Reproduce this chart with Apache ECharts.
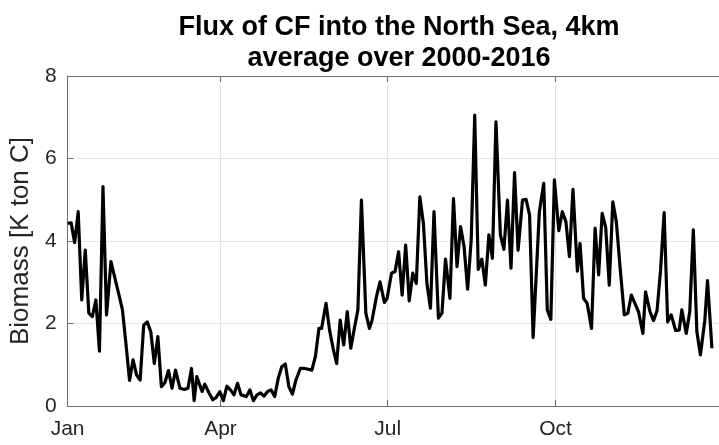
<!DOCTYPE html>
<html>
<head>
<meta charset="utf-8">
<script src="https://cdn.jsdelivr.net/npm/echarts@6/dist/echarts.min.js"></script>
<style>
  html, body { margin: 0; padding: 0; background: #fff; }
  #chart { width: 719px; height: 445px; }
</style>
</head>
<body>
<div id="chart"></div>
<script>
// day of year of each sample
const days = [
  1, 3, 5, 7, 9, 11, 13, 15, 17, 19, 21, 23, 25.5, 28, 30, 32, 34, 36, 38, 40,
  42, 44, 46, 48, 50, 52, 54, 56, 58, 60, 62, 64.5, 67, 69, 71, 72.5, 74, 77, 78.5, 81,
  83, 85, 87, 89, 91, 93, 95, 97, 99, 102, 104, 106, 108, 110, 112, 114, 116, 118, 120, 122,
  124, 126, 128, 130, 132.5, 135, 137, 139, 141, 143, 144.5, 147, 149, 151, 153, 155, 157, 159, 161, 163,
  165, 167, 169.5, 171.5, 173, 175.5, 177.5, 180, 181.5, 184, 186, 188, 190, 192, 194, 196, 198, 200, 202, 204,
  206, 208, 210.5, 212.5, 214.5, 217, 219, 221, 223, 225, 227, 229, 231, 233, 235, 237, 239, 241, 243, 245.5,
  247.5, 249.5, 251.5, 253.5, 255.5, 258, 260, 262, 264, 267.5, 270, 272, 274, 276, 278.5, 280.5, 282.5, 284.5, 286.5, 289,
  290.5, 292.5, 294.5, 297, 299, 301, 303, 305, 307, 309, 311, 313, 315.5, 317.5, 319.5, 321.5, 323.5, 326, 327.5, 330,
  332, 334, 336, 338, 340, 342, 344.5, 346.5, 348, 350.5, 352.5, 354.5, 356.5, 358.5, 361, 362.5, 365
];
// biomass flux, K ton C
const flux = [
  4.43, 4.44, 3.96, 4.71, 2.57, 3.78, 2.25, 2.17, 2.57, 1.33, 5.32, 2.21, 3.50, 3.05, 2.70, 2.33, 1.50, 0.62, 1.12, 0.75,
  0.63, 1.96, 2.04, 1.80, 1.03, 1.68, 0.47, 0.57, 0.86, 0.43, 0.87, 0.43, 0.40, 0.43, 0.91, 0.13, 0.71, 0.35, 0.53, 0.31,
  0.15, 0.21, 0.35, 0.13, 0.48, 0.39, 0.27, 0.55, 0.27, 0.23, 0.39, 0.13, 0.27, 0.32, 0.24, 0.35, 0.39, 0.23, 0.67, 0.95,
  1.02, 0.47, 0.29, 0.63, 0.91, 0.91, 0.89, 0.87, 1.20, 1.88, 1.88, 2.49, 1.84, 1.40, 1.03, 2.08, 1.48, 2.29, 1.40, 1.88,
  2.33, 4.99, 2.25, 1.88, 2.08, 2.65, 3.01, 2.51, 2.61, 3.22, 3.26, 3.74, 2.69, 3.90, 2.55, 3.22, 2.97, 5.07, 4.43, 2.97,
  2.37, 4.71, 2.13, 2.25, 3.56, 2.61, 5.03, 3.38, 4.35, 3.86, 2.83, 4.02, 7.05, 3.31, 3.56, 2.93, 4.15, 3.58, 6.89, 4.15,
  3.80, 4.99, 3.34, 5.66, 3.78, 4.99, 5.01, 4.63, 1.66, 4.70, 5.40, 2.33, 2.10, 5.48, 4.25, 4.71, 4.47, 3.62, 5.25, 3.27,
  3.94, 2.61, 2.49, 1.88, 4.31, 3.18, 4.67, 4.33, 2.93, 4.95, 4.47, 3.42, 2.21, 2.25, 2.69, 2.49, 2.29, 1.76, 2.77, 2.29,
  2.07, 2.31, 3.30, 4.69, 2.04, 2.21, 1.83, 1.84, 2.33, 1.76, 2.29, 4.27, 1.80, 1.24, 2.08, 3.04, 1.40
];
// month ticks
const tickDays = [1, 87.4, 181.8, 276.7];
const tickNames = ['Jan', 'Apr', 'Jul', 'Oct'];

const textColor = '#262626'
const axisColor = '#6e6e6e'
const font = 'Liberation Sans'

const chart = echarts.init(document.getElementById('chart'))

const option = {
  animation: false,
  backgroundColor: '#fff',
  title: {
    text: 'Flux of CF into the North Sea, 4km\naverage over 2000-2016',
    left: 394,
    top: 7,
    textAlign: 'center',
    textStyle: {
      fontFamily: font,
      fontSize: 27,
      fontWeight: 'bold',
      color: '#000',
      lineHeight: 31
    }
  },
  grid: {
    left: 66,
    top: 76,
    right: -7,
    bottom: 39
  },
  xAxis: [
    {
      type: 'value',
      min: 1,
      max: 369,
      axisLine: {lineStyle: {color: axisColor, width: 1}},
      axisTick: {inside: true, length: 6, customValues: tickDays, lineStyle: {color: axisColor}},
      axisLabel: {
        customValues: tickDays,
        margin: 13,
        fontFamily: font,
        fontSize: 21,
        color: textColor,
        formatter: v => tickNames[tickDays.indexOf(v)] || ''
      },
      splitLine: {show: true, lineStyle: {color: '#e3e3e3', width: 1}}
    },
    {
      type: 'value',
      position: 'top',
      min: 1,
      max: 369,
      axisLine: {show: true, lineStyle: {color: axisColor, width: 1}},
      axisTick: {inside: true, length: 6, customValues: tickDays, lineStyle: {color: axisColor}},
      axisLabel: {show: false},
      splitLine: {show: false}
    }
  ],
  yAxis: {
    type: 'value',
    min: 0,
    max: 8,
    interval: 2,
    name: 'Biomass [K ton C]',
    nameLocation: 'middle',
    nameGap: 29,
    nameTextStyle: {fontFamily: font, fontSize: 26, color: textColor},
    axisLine: {show: true, lineStyle: {color: axisColor, width: 1}},
    axisTick: {show: true, inside: true, length: 6, lineStyle: {color: axisColor}},
    axisLabel: {margin: 11, fontFamily: font, fontSize: 21, color: textColor},
    splitLine: {show: true, lineStyle: {color: '#e3e3e3', width: 1}}
  },
  series: [
    {
      type: 'line',
      data: days.map((d, i) => [d, flux[i]]),
      showSymbol: false,
      lineStyle: {color: '#000', width: 3.2, join: 'round'},
      z: 5
    }
  ]
}
chart.setOption(option)
</script>
</body>
</html>
